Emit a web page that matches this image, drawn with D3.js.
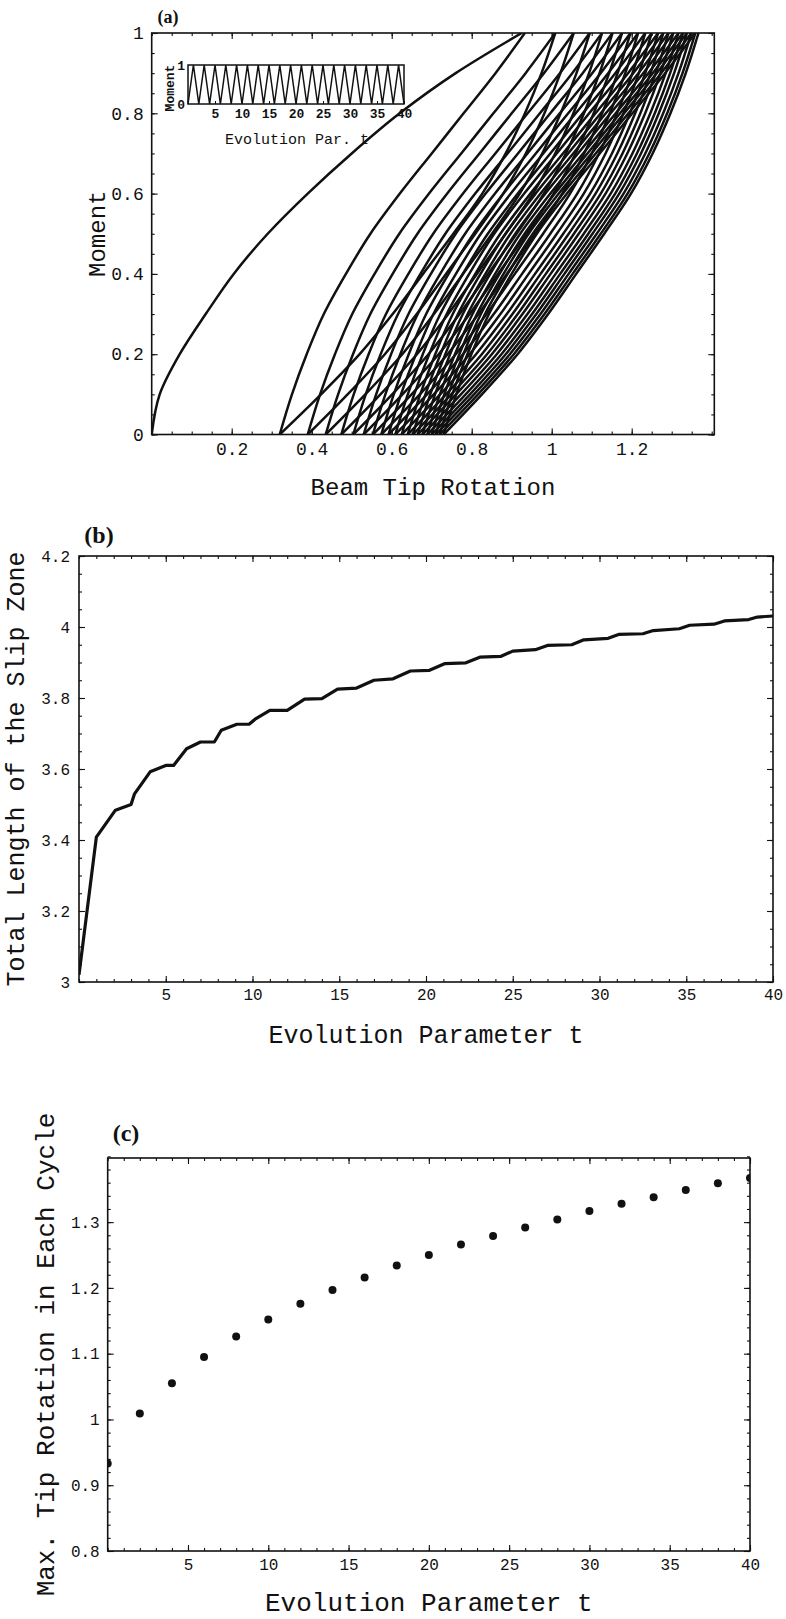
<!DOCTYPE html>
<html>
<head>
<meta charset="utf-8">
<script src="https://cdn.jsdelivr.net/npm/d3@7"></script>
<style>
body { margin: 0; background: #fff; }
svg { display: block; }
.domain { display: none; }
</style>
</head>
<body>
<svg width="786" height="1619"></svg>
<script>
// ---- (a) moment vs beam tip rotation ----
var momentLevels = [0, 0.1, 0.2, 0.3, 0.4, 0.5, 0.6, 0.7, 0.8, 0.9, 1];
var firstLoading = [0, 0.02, 0.07, 0.135, 0.205, 0.29, 0.39, 0.50, 0.62, 0.76, 0.925];
// share of a branch's rotation span already covered, by moment distance from the branch start
var unloadShape = [0, 0.12, 0.25, 0.38, 0.51, 0.63, 0.73, 0.82, 0.89, 0.95, 1];
var reloadShape = [0, 0.15, 0.29, 0.41, 0.52, 0.63, 0.735, 0.82, 0.89, 0.95, 1];
var peakRotation = [0.933, 1.009, 1.055, 1.095, 1.126, 1.152, 1.176, 1.197, 1.216, 1.234,
  1.250, 1.266, 1.279, 1.292, 1.304, 1.317, 1.328, 1.338, 1.349, 1.359, 1.367];
var valleyRotation = [0.32, 0.39, 0.435, 0.474, 0.504, 0.530, 0.553, 0.574, 0.592, 0.609,
  0.625, 0.640, 0.653, 0.665, 0.677, 0.689, 0.700, 0.710, 0.720, 0.730];
var aTicksX = [0.2, 0.4, 0.6, 0.8, 1, 1.2];
var aTicksY = [0, 0.2, 0.4, 0.6, 0.8, 1];

// inset: moment history
var insetT = [0, 1, 2, 3, 4, 5, 6, 7, 8, 9, 10, 11, 12, 13, 14, 15, 16, 17, 18, 19, 20,
  21, 22, 23, 24, 25, 26, 27, 28, 29, 30, 31, 32, 33, 34, 35, 36, 37, 38, 39, 40];
var insetMoment = [0, 1, 0, 1, 0, 1, 0, 1, 0, 1, 0, 1, 0, 1, 0, 1, 0, 1, 0, 1, 0,
  1, 0, 1, 0, 1, 0, 1, 0, 1, 0, 1, 0, 1, 0, 1, 0, 1, 0, 1, 0];
var insetTicks = [5, 10, 15, 20, 25, 30, 35, 40];

// ---- (b) total length of the slip zone ----
var slipT = [0, 1.0, 2.1, 3.0, 3.2, 4.1, 5.0, 5.45, 6.2, 7.0, 7.8, 8.2, 9.1, 9.8, 10.2, 11.0,
  12.0, 13.0, 14.0, 14.9, 16.0, 17.0, 18.1, 19.1, 20.2, 21.1, 22.3, 23.1, 24.3, 25.0, 26.3,
  27.0, 28.4, 29.1, 30.5, 31.1, 32.5, 33.1, 34.6, 35.2, 36.6, 37.2, 38.6, 39.1, 40];
var slipLength = [3.02, 3.408, 3.484, 3.50, 3.53, 3.592, 3.61, 3.61, 3.657, 3.676, 3.676, 3.709,
  3.726, 3.726, 3.742, 3.765, 3.765, 3.797, 3.798, 3.825, 3.828, 3.85, 3.854, 3.876, 3.878,
  3.897, 3.899, 3.915, 3.917, 3.932, 3.936, 3.948, 3.950, 3.964, 3.968, 3.979, 3.981, 3.99,
  3.995, 4.005, 4.008, 4.017, 4.021, 4.028, 4.031];
var bTicksX = [5, 10, 15, 20, 25, 30, 35, 40];
var bTicksY = [3, 3.2, 3.4, 3.6, 3.8, 4, 4.2];

// ---- (c) max tip rotation in each cycle ----
var cycleT = [0, 2, 4, 6, 8, 10, 12, 14, 16, 18, 20, 22, 24, 26, 28, 30, 32, 34, 36, 38, 40];
var maxRotation = [0.933, 1.009, 1.055, 1.095, 1.126, 1.152, 1.176, 1.197, 1.216, 1.234,
  1.250, 1.266, 1.279, 1.292, 1.304, 1.317, 1.328, 1.338, 1.349, 1.359, 1.367];
var cTicksX = [5, 10, 15, 20, 25, 30, 35, 40];
var cTicksY = [0.8, 0.9, 1, 1.1, 1.2, 1.3];

var svg = d3.select('svg');
var monoFont = "'Liberation Mono', 'Courier New', monospace";
var ink = '#111';

function fmt(d) { return String(+d.toFixed(3)); }

function minorTicks(lo, hi, step) {
  var out = [];
  var n = Math.round((hi - lo) / step);
  for (var i = 0; i <= n; i++) out.push(+(lo + i * step).toFixed(4));
  return out;
}

function drawFrame(g, x, y, o) {
  var x0 = x.range()[0], x1 = x.range()[1];
  var y0 = y.range()[0], y1 = y.range()[1];
  var xMinor = minorTicks(x.domain()[0], x.domain()[1], o.xMinor);
  var yMinor = minorTicks(y.domain()[0], y.domain()[1], o.yMinor);

  g.append('g').attr('transform', 'translate(0,' + y0 + ')')
    .call(d3.axisBottom(x).tickValues(xMinor).tickSize(-3).tickFormat(''));
  g.append('g').attr('transform', 'translate(0,' + y1 + ')')
    .call(d3.axisTop(x).tickValues(xMinor).tickSize(-3).tickFormat(''));
  g.append('g').attr('transform', 'translate(' + x0 + ',0)')
    .call(d3.axisLeft(y).tickValues(yMinor).tickSize(-3).tickFormat(''));
  g.append('g').attr('transform', 'translate(' + x1 + ',0)')
    .call(d3.axisRight(y).tickValues(yMinor).tickSize(-3).tickFormat(''));

  g.append('g').attr('transform', 'translate(0,' + y1 + ')')
    .call(d3.axisTop(x).tickValues(o.xMajor).tickSize(-6).tickFormat(''));
  g.append('g').attr('transform', 'translate(' + x1 + ',0)')
    .call(d3.axisRight(y).tickValues(o.yMajor).tickSize(-6).tickFormat(''));

  var bx = g.append('g').attr('transform', 'translate(0,' + y0 + ')')
    .call(d3.axisBottom(x).tickValues(o.xMajor).tickSize(-6).tickPadding(o.padX).tickFormat(fmt));
  var ly = g.append('g').attr('transform', 'translate(' + x0 + ',0)')
    .call(d3.axisLeft(y).tickValues(o.yMajor).tickSize(-6).tickPadding(o.padY).tickFormat(fmt));
  [bx, ly].forEach(function(a) {
    a.attr('font-family', monoFont).attr('font-size', o.tickFont);
    a.selectAll('text').attr('fill', ink);
  });
  g.selectAll('.tick line').attr('stroke', ink).attr('stroke-width', 1.1);

  g.append('rect')
    .attr('x', x0).attr('y', y1)
    .attr('width', x1 - x0).attr('height', y0 - y1)
    .attr('fill', 'none').attr('stroke', ink).attr('stroke-width', 1.6);

  g.append('text')
    .attr('x', (x0 + x1) / 2).attr('y', o.xTitleY)
    .attr('text-anchor', 'middle').attr('dominant-baseline', 'central')
    .attr('font-family', monoFont).attr('font-size', o.titleFont).attr('fill', ink)
    .text(o.xTitle);
  g.append('text')
    .attr('transform', 'translate(' + o.yTitleX + ',' + (y0 + y1) / 2 + ') rotate(-90)')
    .attr('text-anchor', 'middle').attr('dominant-baseline', 'central')
    .attr('font-family', monoFont).attr('font-size', o.titleFont).attr('fill', ink)
    .text(o.yTitle);
  g.append('text')
    .attr('x', o.tag[0]).attr('y', o.tag[1])
    .attr('text-anchor', 'middle').attr('dominant-baseline', 'central')
    .attr('font-family', "'Liberation Serif', 'Times New Roman', serif")
    .attr('font-weight', 'bold').attr('font-size', o.tag[2]).attr('fill', ink)
    .text(o.tag[3]);
}

function clipFor(id, x, y) {
  svg.append('clipPath').attr('id', id).append('rect')
    .attr('x', x.range()[0]).attr('y', y.range()[1])
    .attr('width', x.range()[1] - x.range()[0])
    .attr('height', y.range()[0] - y.range()[1]);
  return 'url(#' + id + ')';
}

// ================= panel (a) =================
var xa = d3.scaleLinear().domain([0, 1.4065]).range([151.7, 714.3]);
var ya = d3.scaleLinear().domain([0, 1]).range([434.5, 33]);
var gA = svg.append('g');

var branches = [];
branches.push(momentLevels.map(function(m, i) { return { m: m, r: firstLoading[i] }; }));
valleyRotation.forEach(function(v, k) {
  var top = peakRotation[k];
  branches.push(momentLevels.map(function(s, i) {
    return { m: 1 - s, r: top - (top - v) * unloadShape[i] };
  }).reverse());
  var next = peakRotation[k + 1];
  branches.push(momentLevels.map(function(s, i) {
    return { m: s, r: v + (next - v) * reloadShape[i] };
  }));
});

var loopLine = d3.line()
  .x(function(d) { return xa(d.r); })
  .y(function(d) { return ya(d.m); })
  .curve(d3.curveMonotoneY);

gA.append('g').attr('clip-path', clipFor('clipA', xa, ya))
  .selectAll('path')
  .data(branches)
  .enter()
  .append('path')
  .attr('d', loopLine)
  .attr('fill', 'none')
  .attr('stroke', ink)
  .attr('stroke-width', 2.5);

drawFrame(gA, xa, ya, {
  xMajor: aTicksX, yMajor: aTicksY, xMinor: 0.05, yMinor: 0.05,
  padX: 8, padY: 8, tickFont: 18, titleFont: 24,
  xTitle: 'Beam Tip Rotation', xTitleY: 488,
  yTitle: 'Moment', yTitleX: 98,
  tag: [168, 17, 18, '(a)']
});

// inset
var xi = d3.scaleLinear().domain([0, 40]).range([188, 404]);
var yi = d3.scaleLinear().domain([0, 1]).range([104, 65]);
var gI = svg.append('g');
gI.append('rect')
  .attr('x', xi(0)).attr('y', yi(1))
  .attr('width', xi(40) - xi(0)).attr('height', yi(0) - yi(1))
  .attr('fill', '#fff').attr('stroke', ink).attr('stroke-width', 1.5);
gI.append('path')
  .datum(insetT)
  .attr('d', d3.line()
    .x(function(d) { return xi(d); })
    .y(function(d, i) { return yi(insetMoment[i]); }))
  .attr('fill', 'none').attr('stroke', ink).attr('stroke-width', 1.5);
var ix = gI.append('g').attr('transform', 'translate(0,' + yi(0) + ')')
  .call(d3.axisBottom(xi).tickValues(insetTicks).tickSize(-3).tickPadding(5).tickFormat(fmt));
var iy = gI.append('g').attr('transform', 'translate(' + xi(0) + ',0)')
  .call(d3.axisLeft(yi).tickValues([0, 1]).tickSize(0).tickPadding(3).tickFormat(fmt));
[ix, iy].forEach(function(a) {
  a.attr('font-family', monoFont).attr('font-size', 13).attr('font-weight', 'bold');
  a.selectAll('text').attr('fill', ink);
  a.selectAll('line').attr('stroke', ink);
});
gI.append('text')
  .attr('x', 297).attr('y', 140)
  .attr('text-anchor', 'middle').attr('dominant-baseline', 'central')
  .attr('font-family', monoFont).attr('font-size', 15).attr('fill', ink)
  .text('Evolution Par. t');
gI.append('text')
  .attr('transform', 'translate(170,88) rotate(-90)')
  .attr('text-anchor', 'middle').attr('dominant-baseline', 'central')
  .attr('font-family', monoFont).attr('font-size', 13).attr('font-weight', 'bold').attr('fill', ink)
  .text('Moment');

// ================= panel (b) =================
var xb = d3.scaleLinear().domain([0, 40]).range([79, 773]);
var yb = d3.scaleLinear().domain([3, 4.2]).range([982, 556]);
var gB = svg.append('g');

gB.append('path')
  .datum(slipT)
  .attr('clip-path', clipFor('clipB', xb, yb))
  .attr('d', d3.line()
    .x(function(d) { return xb(d); })
    .y(function(d, i) { return yb(slipLength[i]); }))
  .attr('fill', 'none').attr('stroke', ink).attr('stroke-width', 3.2)
  .attr('stroke-linejoin', 'round');

drawFrame(gB, xb, yb, {
  xMajor: bTicksX, yMajor: bTicksY, xMinor: 1, yMinor: 0.05,
  padX: 7, padY: 9, tickFont: 16, titleFont: 25,
  xTitle: 'Evolution Parameter t', xTitleY: 1036,
  yTitle: 'Total Length of the Slip Zone', yTitleX: 17,
  tag: [99, 535, 24, '(b)']
});

// ================= panel (c) =================
var xc = d3.scaleLinear().domain([0, 40]).range([107.7, 750]);
var yc = d3.scaleLinear().domain([0.8, 1.3975]).range([1551, 1158]);
var gC = svg.append('g');

gC.append('g').attr('clip-path', clipFor('clipC', xc, yc))
  .selectAll('circle')
  .data(cycleT)
  .enter()
  .append('circle')
  .attr('cx', function(d) { return xc(d); })
  .attr('cy', function(d, i) { return yc(maxRotation[i]); })
  .attr('r', 4)
  .attr('fill', ink);

drawFrame(gC, xc, yc, {
  xMajor: cTicksX, yMajor: cTicksY, xMinor: 1, yMinor: 0.02,
  padX: 8, padY: 8, tickFont: 16, titleFont: 26,
  xTitle: 'Evolution Parameter t', xTitleY: 1604,
  yTitle: 'Max. Tip Rotation in Each Cycle', yTitleX: 47,
  tag: [126, 1133, 24, '(c)']
});
</script>
</body>
</html>
